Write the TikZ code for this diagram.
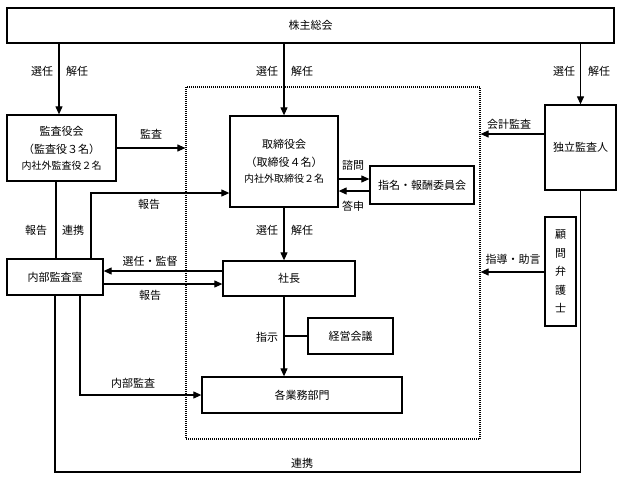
\documentclass[tikz,border=0pt]{standalone}
\usepackage{fontspec}
\setmainfont{Noto Sans CJK JP}
\usetikzlibrary{arrows.meta}
\begin{document}
\begin{tikzpicture}[x=1pt,y=-1pt,
  box/.style={draw,line width=1.3pt,inner sep=0pt,align=center,font=\fontsize{11}{18}\selectfont},
  ln/.style={line width=1.1pt},
  arr/.style={ln,-{Triangle[length=8pt,width=7pt]}},
  lbl/.style={inner sep=0pt,font=\fontsize{11}{13}\selectfont}]
\useasboundingbox (0,0) rectangle (623,479);
% group (dotted)
\node[draw,dash pattern=on 1pt off 1pt,line width=1.2pt,minimum width=294pt,minimum height=352pt,inner sep=0pt] (group) at (333,263) {};
% boxes
\node[box,minimum width=607pt,minimum height=35pt] (soukai) at (310.5,25.5) {株主総会};
\node[box,minimum width=109pt,minimum height=66pt] (kansa) at (61.5,148) {監査役会\\（監査役３名）\\[-2pt]{\fontsize{10}{12}\selectfont 内社外監査役２名}};
\node[box,minimum width=108pt,minimum height=91pt] (tori) at (284,161.5) {取締役会\\（取締役４名）\\[-2pt]{\fontsize{10}{12}\selectfont 内社外取締役２名}};
\node[box,minimum width=104pt,minimum height=38pt] (shimei) at (422,185) {指名・報酬委員会};
\node[box,minimum width=71pt,minimum height=85pt] (dokuritsu) at (580.5,147.5) {独立監査人};
\node[box,minimum width=31pt,minimum height=109pt,font=\fontsize{11}{18.5}\selectfont] (komon) at (560.5,271.5) {顧\\問\\弁\\護\\士};
\node[box,minimum width=96pt,minimum height=36pt] (naibu) at (55,277) {内部監査室};
\node[box,minimum width=132pt,minimum height=35pt] (shacho) at (289,278.5) {社長};
\node[box,minimum width=85pt,minimum height=36pt] (keiei) at (350.5,336) {経営会議};
\node[box,minimum width=200pt,minimum height=36pt] (gyomu) at (302,395) {各業務部門};
% top arrows
\draw[arr] (soukai.south -| 59,0) -- (kansa.north -| 59,0);
\draw[arr] (soukai.south -| tori.north) -- (tori.north);
\draw[arr] (soukai.south -| dokuritsu.north) -- (dokuritsu.north);
\node[lbl] (l1) at (42,71) {選任};
\node[lbl] (l2) at (77,71) {解任};
\node[lbl] (l3) at (267,71) {選任};
\node[lbl] (l4) at (302,71) {解任};
\node[lbl] (l5) at (564,71) {選任};
\node[lbl] (l6) at (599,71) {解任};
% kansa -> group
\draw[arr] (kansa.east |- 0,148) -- (group.west |- 0,148);
\node[lbl] (l7) at (151,134) {監査};
% kansa -- naibu
\draw[ln] (kansa.south -| 56,0) -- (naibu.north -| 56,0);
\node[lbl] (l8) at (36,230) {報告};
\node[lbl] (l9) at (73,230) {連携};
% naibu -> tori
\draw[arr] (naibu.north -| 91,0) |- (tori.west |- 0,193);
\node[lbl] (l10) at (149,204) {報告};
% shacho <-> naibu
\draw[arr] (shacho.west |- 0,271) -- (naibu.east |- 0,271);
\node[lbl] (l11) at (150,261) {選任・監督};
\draw[arr] (naibu.east |- 0,284) -- (shacho.west |- 0,284);
\node[lbl] (l12) at (150,295) {報告};
% tori -> shacho
\draw[arr] (tori.south) -- (tori.south |- shacho.north);
\node[lbl] (l13) at (267,230) {選任};
\node[lbl] (l14) at (302,230) {解任};
% tori <-> shimei
\draw[arr] (tori.east |- 0,179) -- (shimei.west |- 0,179);
\node[lbl] (l15) at (353,165) {諮問};
\draw[arr] (shimei.west |- 0,191) -- (tori.east |- 0,191);
\node[lbl] (l16) at (353,206) {答申};
% external -> group
\draw[arr] (dokuritsu.west |- 0,134) -- (group.east |- 0,134);
\node[lbl] (l17) at (509,124) {会計監査};
\draw[arr] (komon.west |- 0,272) -- (group.east |- 0,272);
\node[lbl] (l18) at (513,259) {指導・助言};
% shacho -> gyomu
\draw[arr] (shacho.south -| tori.south) -- (gyomu.north -| tori.south);
\draw[ln] (keiei.west -| tori.south) -- (keiei.west);
\node[lbl] (l19) at (267,337) {指示};
% naibu -> gyomu
\draw[arr] (naibu.south -| 80,0) |- (gyomu.west);
\node[lbl] (l20) at (133,383) {内部監査};
% bottom link
\draw[ln] (naibu.south) -- (naibu.south |- 0,472) -| (dokuritsu.south);
\node[lbl] (l21) at (302,463) {連携};
\end{tikzpicture}
\end{document}
